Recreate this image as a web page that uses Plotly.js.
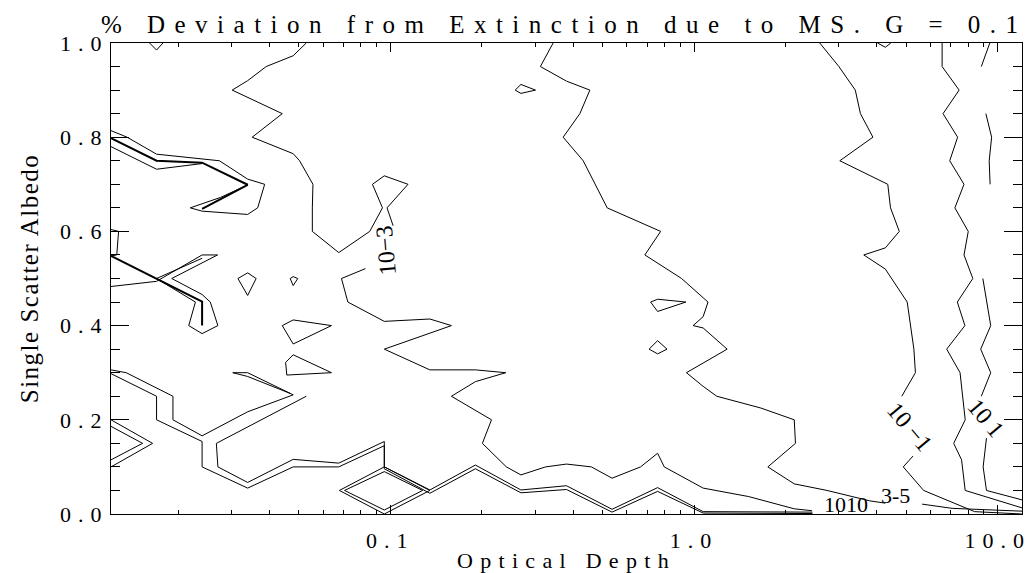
<!DOCTYPE html>
<html>
<head>
<meta charset="utf-8">
<script src="https://cdn.plot.ly/plotly-3.0.1.min.js"></script>
<style>
  body { margin: 0; background: #fff; }
  #chart { width: 1031px; height: 573px; }
  .gtitle { letter-spacing: 9.5px; }
  .xtick text, .ytick text { letter-spacing: 7px; }
  .xtitle { letter-spacing: 7.3px; }
  .ytitle { letter-spacing: 1.5px; }
</style>
</head>
<body>
<div id="chart"></div>
<script>
// ---- axis tick values ----
const xTickVals = [0.1, 1, 10];
const xTickText = ["0.1", "1.0", "10.0"];
const xMinorVals = [0.02,0.03,0.04,0.05,0.06,0.07,0.08,0.09,0.2,0.3,0.4,0.5,0.6,0.7,0.8,0.9,2,3,4,5,6,7,8,9];
const yTickVals = [0, 0.2, 0.4, 0.6, 0.8, 1.0];
const yTickText = ["0.0", "0.2", "0.4", "0.6", "0.8", "1.0"];

// ---- contour lines: log10(optical depth) and single scatter albedo ----
// 10^-3 contour (upper part, down to the label)
const lineA1_logTau = [-1.277,-1.32,-1.409,-1.47,-1.521,-1.47,-1.356,-1.455,-1.32,-1.299,-1.255,-1.257,-1.257,-1.17,-1.068,-1.026,-1.059,-1.02,-0.942,-1.011,-0.991];
const lineA1_albedo = [1.0,0.973,0.95,0.92,0.90,0.885,0.85,0.80,0.765,0.75,0.70,0.65,0.60,0.555,0.60,0.65,0.70,0.718,0.70,0.65,0.612];
// 10^-3 contour (below the label)
const lineA2_logTau = [-1.082,-1.161,-1.140,-1.02,-0.87,-0.799,-1.02,-0.87,-0.72,-0.620,-0.72,-0.799,-0.667,-0.697,-0.618,-0.57,-0.489,-0.42,-0.338,-0.27,-0.176,-0.12,-0.098,0.03,0.18,0.33,0.388];
const lineA2_albedo = [0.521,0.50,0.45,0.409,0.414,0.40,0.35,0.306,0.306,0.30,0.281,0.25,0.20,0.15,0.10,0.083,0.10,0.106,0.10,0.076,0.10,0.129,0.10,0.055,0.037,0.011,0.007];
// middle contour
const lineB_logTau = [-0.464,-0.506,-0.42,-0.343,-0.376,-0.431,-0.365,-0.286,-0.110,-0.162,-0.041,0.046,0.03,-0.003,0.03,0.109,-0.025,0.03,0.075,0.220,0.33,0.334,0.243,0.33,0.438,0.578,0.63];
const lineB_albedo = [1.0,0.95,0.919,0.90,0.85,0.80,0.75,0.65,0.60,0.55,0.50,0.45,0.419,0.40,0.395,0.35,0.30,0.271,0.25,0.225,0.20,0.15,0.10,0.064,0.05,0.028,0.023];
const lineB2_logTau = [0.751,0.85,1.08];
const lineB2_albedo = [0.021,0.012,0.006];
// 10^-1 contour
const lineC1_logTau = [0.414,0.477,0.531,0.548,0.589,0.48,0.638,0.647,0.676,0.63,0.559,0.63,0.702,0.724,0.729,0.684];
const lineC1_albedo = [1.0,0.95,0.90,0.85,0.80,0.75,0.70,0.65,0.60,0.565,0.55,0.52,0.45,0.35,0.30,0.25];
const lineC2_logTau = [0.721,0.689,0.756,0.924,1.08];
const lineC2_albedo = [0.123,0.10,0.05,0.005,0.0];
// contour between 10^-1 and 10^1
const lineD_logTau = [0.817,0.817,0.873,0.820,0.868,0.842,0.889,0.859,0.903,0.889,0.918,0.867,0.892,0.832,0.876,0.893,0.855,0.881,0.893,1.08];
const lineD_albedo = [1.0,0.95,0.90,0.85,0.80,0.75,0.70,0.65,0.60,0.55,0.50,0.45,0.40,0.35,0.30,0.20,0.15,0.115,0.05,0.013];
// 10^1 contour (broken)
const lineE1_logTau = [0.974,0.946];
const lineE1_albedo = [1.0,0.95];
const lineE2_logTau = [0.961,0.980,0.972,0.975];
const lineE2_albedo = [0.85,0.80,0.75,0.70];
const lineE3_logTau = [0.951,0.977,0.944,0.977,0.946];
const lineE3_albedo = [0.50,0.40,0.35,0.30,0.25];
const lineE4_logTau = [0.963,0.952,0.963,1.08];
const lineE4_albedo = [0.161,0.10,0.05,0.03];
// small closed loops
const loop1_logTau = [-1.793,-1.77,-1.749];
const loop1_albedo = [1.0,0.985,1.0];
const loop2_logTau = [-0.589,-0.57,-0.522,-0.57,-0.589];
const loop2_albedo = [0.90,0.912,0.90,0.893,0.90];
const loop3_logTau = [0.604,0.63,0.648];
const loop3_albedo = [1.0,0.991,1.0];
const loop4_logTau = [-0.143,-0.12,-0.027,-0.12,-0.143];
const loop4_albedo = [0.45,0.456,0.45,0.430,0.45];
const loop5_logTau = [-0.148,-0.12,-0.089,-0.12,-0.148];
const loop5_albedo = [0.35,0.368,0.35,0.340,0.35];
const loop6_logTau = [-1.502,-1.47,-1.442,-1.47,-1.502];
const loop6_albedo = [0.50,0.512,0.50,0.464,0.50];
const loop7_logTau = [-1.330,-1.32,-1.305,-1.32,-1.330];
const loop7_albedo = [0.50,0.504,0.50,0.485,0.50];
const loop8_logTau = [-1.356,-1.32,-1.194,-1.32,-1.356];
const loop8_albedo = [0.40,0.412,0.40,0.361,0.40];
const loop9_logTau = [-1.345,-1.32,-1.194,-1.341,-1.345];
const loop9_albedo = [0.322,0.338,0.30,0.295,0.322];
// left-side nested contours
const leftU1_logTau = [-1.92,-1.867,-1.77,-1.62,-1.563,-1.47,-1.414,-1.437,-1.47,-1.62,-1.659,-1.56,-1.475];
const leftU1_albedo = [0.814,0.80,0.764,0.754,0.75,0.711,0.70,0.65,0.636,0.643,0.65,0.672,0.697];
const leftU2_logTau = [-1.92,-1.77,-1.62,-1.47,-1.62];
const leftU2_albedo = [0.798,0.750,0.746,0.699,0.648];
const leftU3_logTau = [-1.92,-1.77,-1.62];
const leftU3_albedo = [0.780,0.732,0.744];
const leftW0_logTau = [-1.92,-1.895,-1.901,-1.92];
const leftW0_albedo = [0.604,0.60,0.55,0.548];
const leftW1_logTau = [-1.92,-1.77,-1.62,-1.62];
const leftW1_albedo = [0.548,0.499,0.451,0.40];
const leftW2_logTau = [-1.92,-1.77,-1.62,-1.569,-1.72,-1.62,-1.593,-1.568,-1.62,-1.664,-1.642,-1.77];
const leftW2_albedo = [0.483,0.494,0.55,0.55,0.50,0.466,0.45,0.40,0.383,0.40,0.45,0.50];
const leftW3_logTau = [-1.77,-1.62];
const leftW3_albedo = [0.500,0.543];
const leftV1_logTau = [-1.92,-1.783,-1.92];
const leftV1_albedo = [0.20,0.15,0.10];
const leftV2_logTau = [-1.92,-1.816,-1.92];
const leftV2_albedo = [0.186,0.15,0.115];
const leftQ1_logTau = [-1.92,-1.870,-1.716,-1.716,-1.62,-1.47,-1.32,-1.47,-1.519,-1.47,-1.33];
const leftQ1_albedo = [0.306,0.30,0.25,0.20,0.166,0.217,0.253,0.30,0.30,0.292,0.256];
const leftQ2_logTau = [-1.277,-1.573,-1.568,-1.47,-1.32,-1.17,-1.02,-1.02,-0.87,-0.72,-0.57,-0.42,-0.27,-0.12,0.03,0.39];
const leftQ2_albedo = [0.25,0.15,0.10,0.067,0.116,0.108,0.154,0.10,0.051,0.104,0.051,0.06,0.010,0.056,0.005,0.004];
const leftQ3_logTau = [-1.92,-1.77,-1.77,-1.62,-1.62,-1.47,-1.32,-1.17,-1.02,-1.02,-0.87,-0.72,-0.57,-0.42,-0.27,-0.12,0.03,0.39];
const leftQ3_albedo = [0.298,0.25,0.20,0.154,0.10,0.055,0.10,0.10,0.145,0.096,0.044,0.096,0.045,0.052,0.004,0.048,0.002,0.001];
const diamond1_logTau = [-1.168,-1.02,-0.87,-1.02,-1.168];
const diamond1_albedo = [0.05,0.10,0.05,0.0,0.05];
const diamond2_logTau = [-1.151,-1.02,-0.894,-1.02,-1.151];
const diamond2_albedo = [0.05,0.09,0.05,0.0085,0.05];

const lines = [
  [lineA1_logTau, lineA1_albedo, 1], [lineA2_logTau, lineA2_albedo, 1],
  [lineB_logTau, lineB_albedo, 1], [lineB2_logTau, lineB2_albedo, 1],
  [lineC1_logTau, lineC1_albedo, 1], [lineC2_logTau, lineC2_albedo, 1],
  [lineD_logTau, lineD_albedo, 1],
  [lineE1_logTau, lineE1_albedo, 1], [lineE2_logTau, lineE2_albedo, 1],
  [lineE3_logTau, lineE3_albedo, 1], [lineE4_logTau, lineE4_albedo, 1],
  [loop1_logTau, loop1_albedo, 1], [loop2_logTau, loop2_albedo, 1], [loop3_logTau, loop3_albedo, 1],
  [loop4_logTau, loop4_albedo, 1], [loop5_logTau, loop5_albedo, 1], [loop6_logTau, loop6_albedo, 1],
  [loop7_logTau, loop7_albedo, 1], [loop8_logTau, loop8_albedo, 1], [loop9_logTau, loop9_albedo, 1],
  [leftU1_logTau, leftU1_albedo, 1], [leftU2_logTau, leftU2_albedo, 2], [leftU3_logTau, leftU3_albedo, 1],
  [leftW0_logTau, leftW0_albedo, 1], [leftW1_logTau, leftW1_albedo, 2], [leftW2_logTau, leftW2_albedo, 1],
  [leftW3_logTau, leftW3_albedo, 1],
  [leftV1_logTau, leftV1_albedo, 1], [leftV2_logTau, leftV2_albedo, 1],
  [leftQ1_logTau, leftQ1_albedo, 1], [leftQ2_logTau, leftQ2_albedo, 1], [leftQ3_logTau, leftQ3_albedo, 1],
  [diamond1_logTau, diamond1_albedo, 1], [diamond2_logTau, diamond2_albedo, 1]
];

const traces = lines.map(([lt, al, w]) => ({
  type: 'scatter', mode: 'lines',
  x: lt.map(v => Math.pow(10, v)), y: al,
  line: { color: '#000', width: w },
  hoverinfo: 'skip', showlegend: false
}));

const labelFont = { family: 'Liberation Serif', size: 24, color: '#000' };
const smallLabelFont = { family: 'Liberation Serif', size: 22, color: '#000' };
const annotations = [
  { x: -1.016, y: 0.559, xref: 'x', yref: 'y', text: '10−3', textangle: -95, showarrow: false, font: labelFont },
  { x: 0.711, y: 0.185, xref: 'x', yref: 'y', text: '10 −1', textangle: 50, showarrow: false, font: labelFont },
  { x: 0.961, y: 0.204, xref: 'x', yref: 'y', text: '10 1', textangle: 50, showarrow: false, font: labelFont },
  { x: 0.50, y: 0.0, xref: 'x', yref: 'y', yanchor: 'bottom', yshift: -5, text: '1010', showarrow: false, font: smallLabelFont },
  { x: 0.662, y: 0.008, xref: 'x', yref: 'y', yanchor: 'bottom', text: '3-5', showarrow: false, font: smallLabelFont }
];

const layout = {
  width: 1031, height: 573,
  margin: { l: 111, r: 9, t: 43, b: 59 },
  paper_bgcolor: '#fff', plot_bgcolor: '#fff',
  font: { family: 'Liberation Serif', size: 22, color: '#000' },
  title: { text: '% Deviation from Extinction due to MS. G = 0.1', font: { family: 'Liberation Serif', size: 25 },
           x: 0.5473, xref: 'container', xanchor: 'center', y: 1 - 33/573, yref: 'container', yanchor: 'bottom' },
  xaxis: {
    type: 'log', range: [-1.92, 1.08],
    tickmode: 'array', tickvals: xTickVals, ticktext: xTickText,
    ticks: 'inside', ticklen: 9, tickwidth: 1, tickcolor: '#000',
    minor: { tickmode: 'array', tickvals: xMinorVals, ticks: 'inside', ticklen: 4, tickwidth: 1, tickcolor: '#000' },
    showline: true, linecolor: '#000', linewidth: 1, mirror: 'ticks',
    showgrid: false, zeroline: false,
    ticklabeloverflow: 'allow', ticklabelstandoff: 7,
    tickfont: { family: 'Liberation Serif', size: 22 },
    title: { text: 'Optical Depth', font: { family: 'Liberation Serif', size: 22 }, standoff: 4 }
  },
  yaxis: {
    range: [0, 1],
    tickmode: 'array', tickvals: yTickVals, ticktext: yTickText,
    ticks: 'inside', ticklen: 18, tickwidth: 1, tickcolor: '#000',
    minor: { dtick: 0.05, ticks: 'inside', ticklen: 9, tickwidth: 1, tickcolor: '#000' },
    showline: true, linecolor: '#000', linewidth: 1, mirror: 'ticks',
    showgrid: false, zeroline: false,
    ticklabelstandoff: -3,
    tickfont: { family: 'Liberation Serif', size: 22 },
    title: { text: 'Single Scatter Albedo', font: { family: 'Liberation Serif', size: 25 }, standoff: 14 }
  },
  annotations: annotations
};

Plotly.newPlot('chart', traces, layout, { displayModeBar: false, staticPlot: true });
</script>
</body>
</html>
